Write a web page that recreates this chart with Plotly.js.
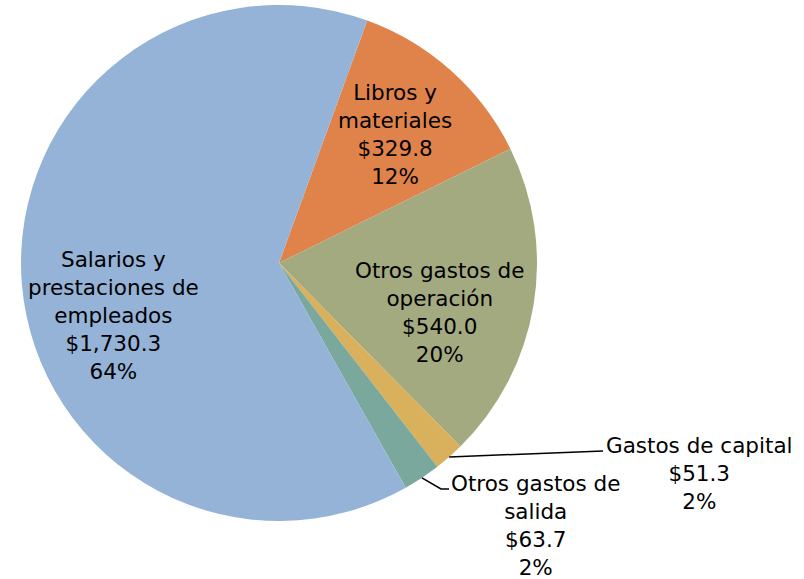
<!DOCTYPE html>
<html>
<head>
<meta charset="utf-8">
<script src="https://cdn.plot.ly/plotly-3.0.1.min.js"></script>
<style>html,body{margin:0;padding:0;background:#fff;}#chart{width:804px;height:579px;}</style>
</head>
<body>
<div id="chart"></div>
<script>
// ---- data ----
const categories = ["Libros y<br>materiales", "Otros gastos de<br>operación", "Gastos de capital", "Otros gastos de<br>salida", "Salarios y<br>prestaciones de<br>empleados"];
const values = [329.8, 540.0, 51.3, 63.7, 1730.3];
const colors = ["#E0834A", "#A4AA80", "#D9B05C", "#7AA89D", "#95B3D7"];

// ---- layout constants ----
const W = 804, H = 579;
const cx = 279, cy = 263, R = 258;
const rotationDeg = 20;
// label centres (pixels) for each slice
const labelPos = [[395, 135], [440, 312], [699, 473], [535, 525], [113, 315]];

const total = values.reduce((a, b) => a + b, 0);
const fmt = v => "$" + v.toLocaleString("en-US", {minimumFractionDigits: 1, maximumFractionDigits: 1});
const pct = v => Math.round(v / total * 100) + "%";

const px = x => x / W, py = y => 1 - y / H;

const annotations = categories.map((c, i) => ({
  xref: "paper", yref: "paper",
  x: px(labelPos[i][0]), y: py(labelPos[i][1]),
  xanchor: "center", yanchor: "middle", align: "center",
  showarrow: false,
  text: c + "<br>" + fmt(values[i]) + "<br>" + pct(values[i]),
  font: {family: "DejaVu Sans, sans-serif", size: 21.5, color: "#000"}
}));

// leader lines for small slices, starting at slice mid-angle on the rim
let cum = 0;
const mids = values.map(v => { const a = rotationDeg + (cum + v / 2) / total * 360; cum += v; return a; });
function rim(i) {
  const a = mids[i] * Math.PI / 180;
  return [cx + R * Math.sin(a), cy - R * Math.cos(a)];
}
const shapes = [];
{
  const [x0, y0] = rim(2);
  shapes.push({type: "path", xref: "paper", yref: "paper",
    path: `M ${px(x0)} ${py(y0)} L ${px(603)} ${py(451)}`,
    line: {color: "#000", width: 1.5}});
  const [x1, y1] = rim(3);
  shapes.push({type: "path", xref: "paper", yref: "paper",
    path: `M ${px(x1)} ${py(y1)} L ${px(441)} ${py(489)} L ${px(449)} ${py(489)}`,
    line: {color: "#000", width: 1.5}});
}

const trace = {
  type: "pie",
  labels: categories,
  values: values,
  sort: false,
  direction: "clockwise",
  rotation: rotationDeg,
  marker: {colors: colors, line: {width: 0}},
  textinfo: "none",
  hoverinfo: "label+value+percent",
  showlegend: false,
  domain: {x: [px(cx - R), px(cx + R)], y: [py(cy + R), py(cy - R)]}
};

const layout = {
  width: W, height: H,
  margin: {l: 0, r: 0, t: 0, b: 0},
  paper_bgcolor: "#fff",
  showlegend: false,
  annotations: annotations,
  shapes: shapes
};

Plotly.newPlot("chart", [trace], layout, {displayModeBar: false, staticPlot: true});
</script>
</body>
</html>
